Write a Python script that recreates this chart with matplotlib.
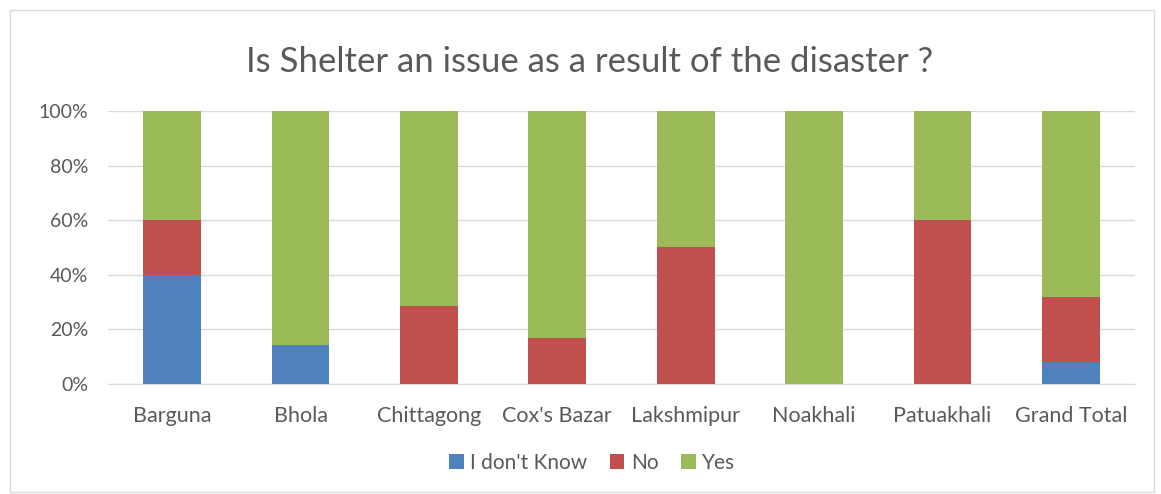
import matplotlib
matplotlib.use("Agg")
import matplotlib.pyplot as plt
from matplotlib.patches import Rectangle
import numpy as np

categories = ["Barguna", "Bhola", "Chittagong", "Cox's Bazar", "Lakshmipur", "Noakhali", "Patuakhali", "Grand Total"]
dont_know = [40.0, 14.3, 0.0, 0.0, 0.0, 0.0, 0.0, 8.0]
no = [20.0, 0.0, 28.6, 16.7, 50.0, 0.0, 60.0, 24.0]
yes = [40.0, 85.7, 71.4, 83.3, 50.0, 100.0, 40.0, 68.0]
series_names = ["I don't Know", "No", "Yes"]
colors = ["#4F81BD", "#C0504D", "#9BBB59"]

plt.rcParams['font.family'] = ['Lato', 'DejaVu Sans']

fig = plt.figure(figsize=(11.61, 4.94), dpi=100)
fig.patches.append(Rectangle((0.009, 0.005), 0.985, 0.975, transform=fig.transFigure,
                             fill=False, edgecolor="#D9D9D9", linewidth=1.0))
ax = fig.add_axes([0.093, 0.2227, 0.8846, 0.5526])

x = np.arange(len(categories))
w = 0.45
bottom = np.zeros(len(categories))
for vals, name, c in zip([dont_know, no, yes], series_names, colors):
    ax.bar(x, vals, w, bottom=bottom, color=c, label=name, zorder=3)
    bottom += np.array(vals)

ax.set_xlim(-0.5, len(categories) - 0.5)
ax.set_ylim(0, 100)
ax.set_yticks(np.arange(0, 101, 20))
ax.set_yticklabels([f"{v}%" for v in range(0, 101, 20)])
ax.set_xticks(x)
ax.set_xticklabels(categories)
ax.grid(axis='y', color="#D9D9D9", linewidth=1.0, zorder=0)
for s in ["top", "right", "left"]:
    ax.spines[s].set_visible(False)
ax.spines["bottom"].set_color("#D9D9D9")
ax.tick_params(axis='both', length=0, colors="#595959")
ax.tick_params(axis='x', pad=16, labelsize=15.5)
ax.tick_params(axis='y', pad=14, labelsize=14)

fig.text(0.508, 0.875, "Is Shelter an issue as a result of the disaster ?", ha='center', va='center',
         fontsize=25, color="#595959")

leg = fig.legend(loc='center', bbox_to_anchor=(0.51, 0.063), ncol=3, frameon=False,
                 fontsize=15, handlelength=0.7, handleheight=0.7, handletextpad=0.3,
                 columnspacing=1.1, labelcolor="#595959")

fig.savefig("out.png", dpi=100)
